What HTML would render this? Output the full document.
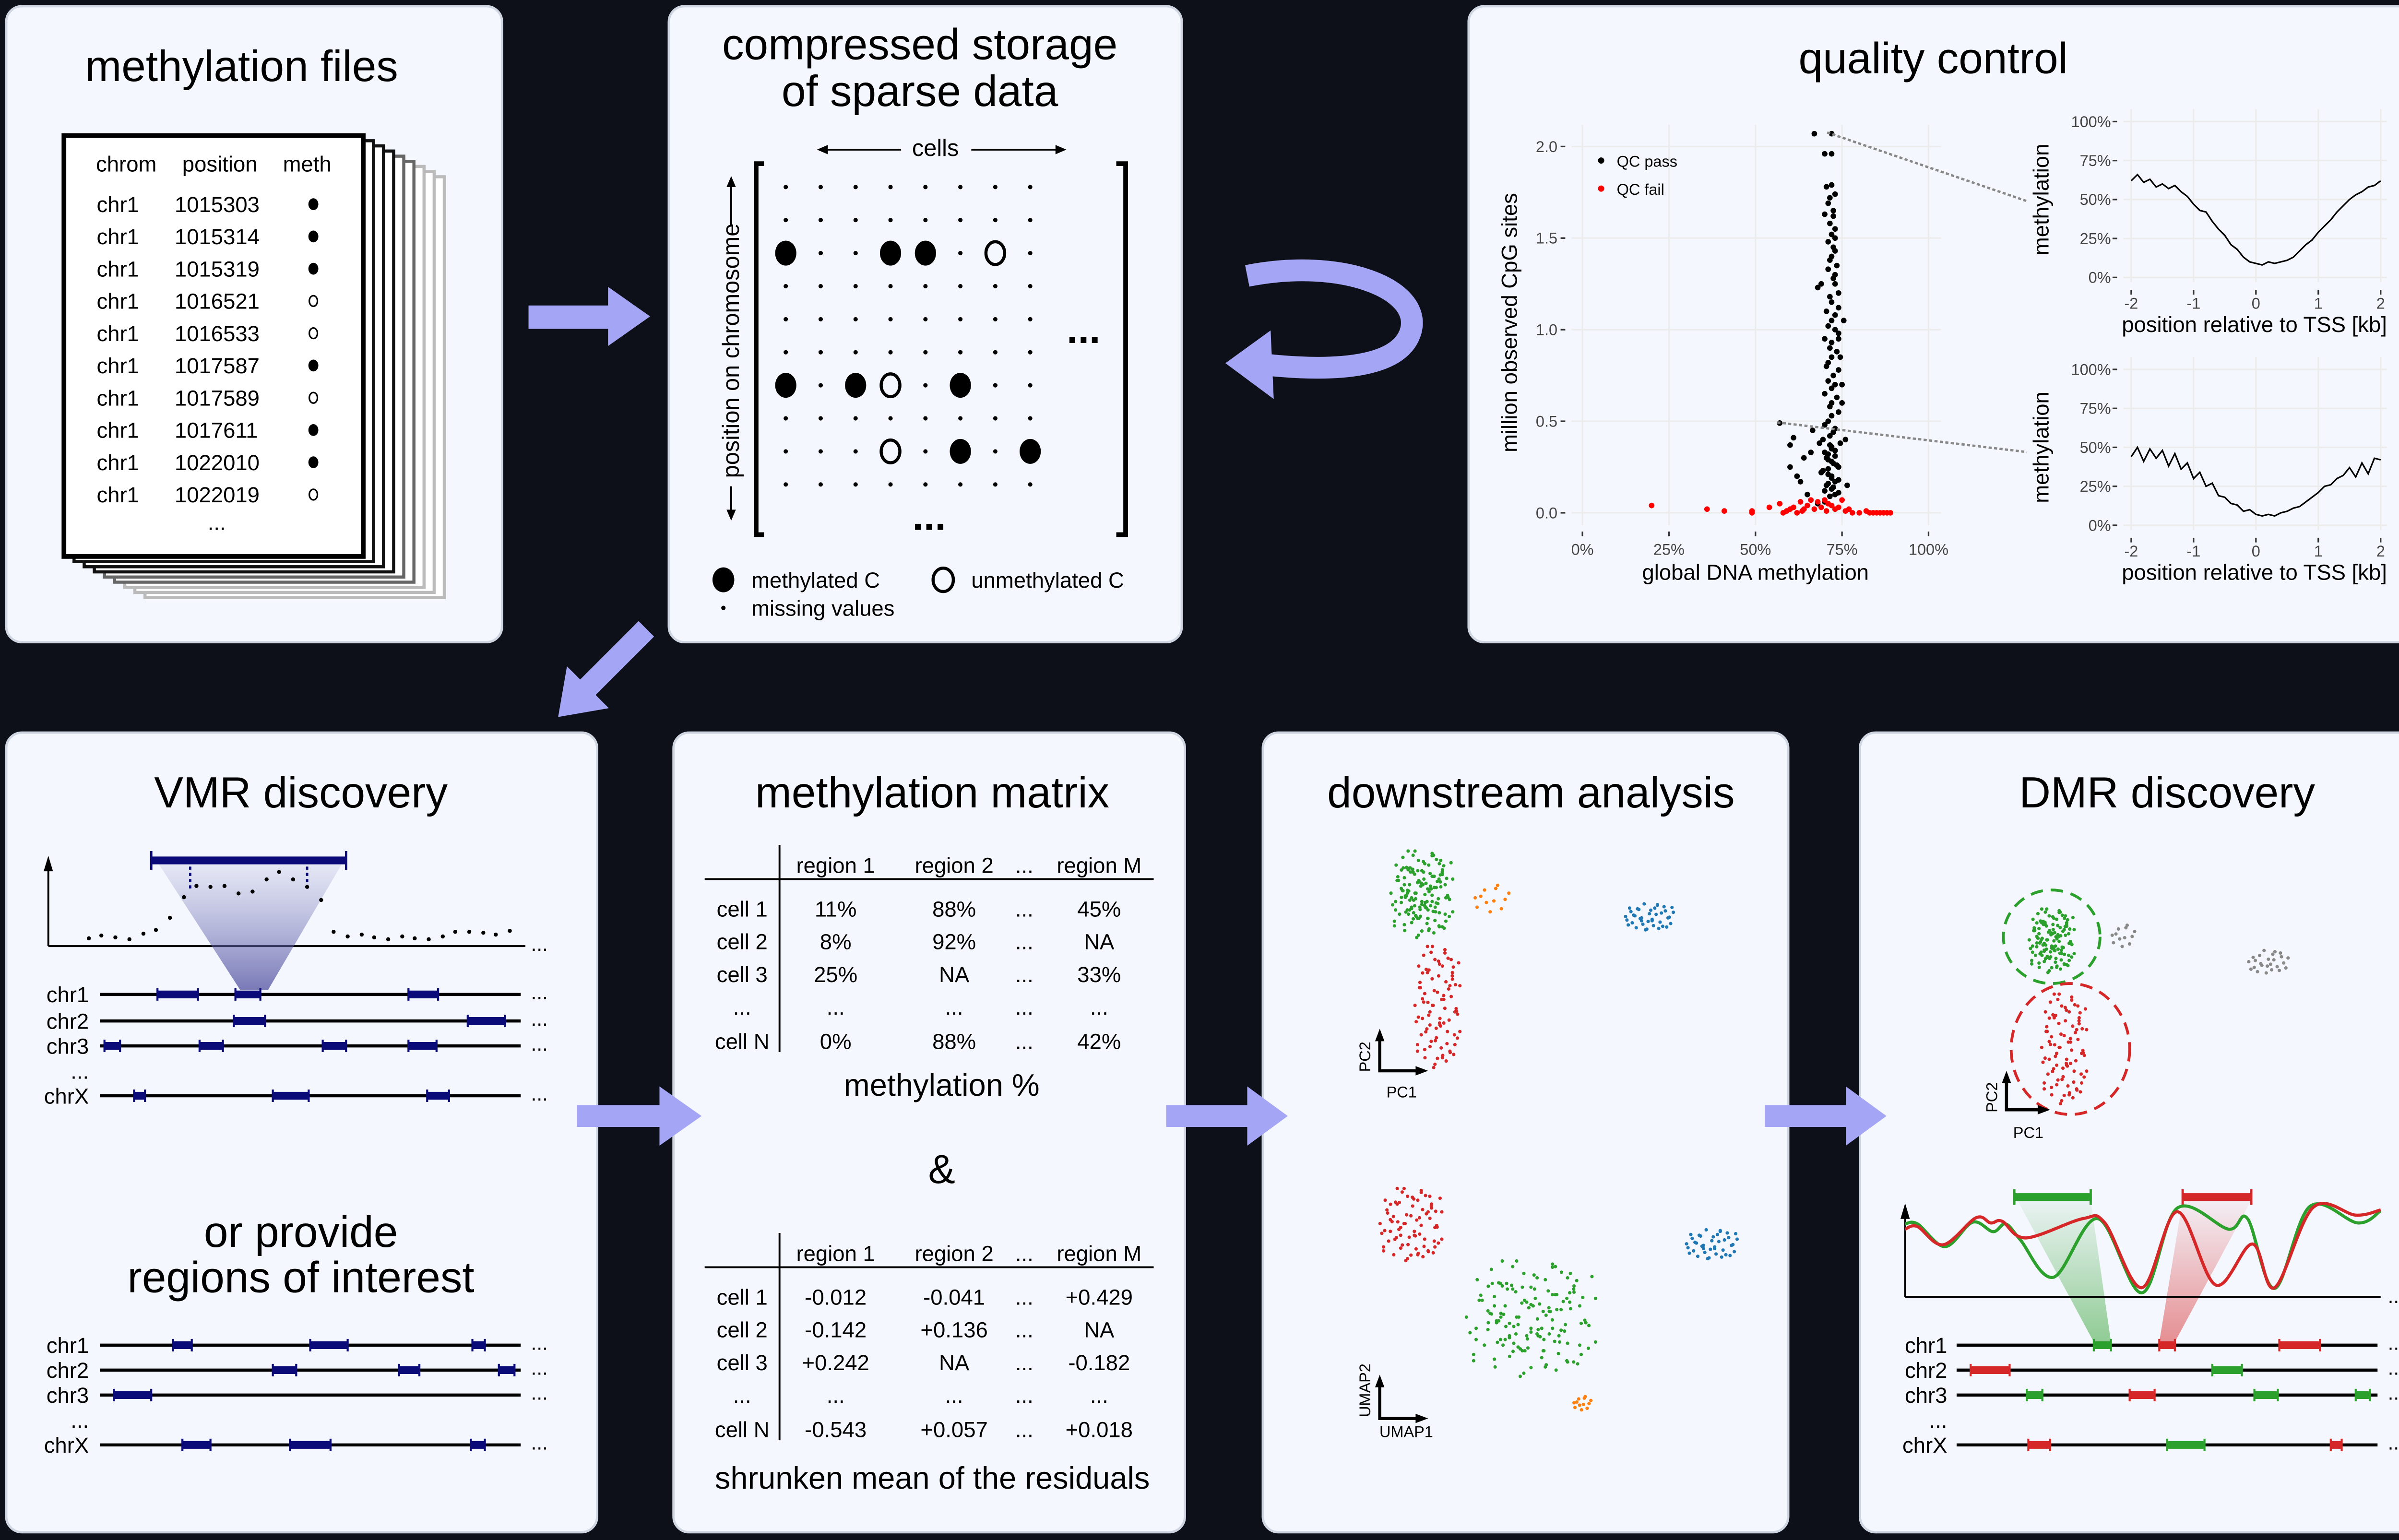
<!DOCTYPE html>
<html><head><meta charset="utf-8">
<style>
html,body{margin:0;padding:0;background:#0d1018;width:5095px;height:3210px;overflow:hidden;}
svg{display:block;font-family:"Liberation Sans",sans-serif;width:5095px;height:3210px;}
</style></head>
<body>
<svg id="fig" xmlns="http://www.w3.org/2000/svg" width="5095" height="3210" viewBox="0 0 1568 988" preserveAspectRatio="none">
<defs>
<linearGradient id="gPurple" x1="0" y1="0" x2="0" y2="1"><stop offset="0" stop-color="#8080c0" stop-opacity="0.12"/><stop offset="1" stop-color="#5050a0" stop-opacity="0.75"/></linearGradient>
<linearGradient id="gGreen" x1="0" y1="0" x2="0" y2="1"><stop offset="0" stop-color="#2ca02c" stop-opacity="0.05"/><stop offset="1" stop-color="#2ca02c" stop-opacity="0.5"/></linearGradient>
<linearGradient id="gRed" x1="0" y1="0" x2="0" y2="1"><stop offset="0" stop-color="#d62728" stop-opacity="0.04"/><stop offset="1" stop-color="#d62728" stop-opacity="0.5"/></linearGradient>
</defs>
<rect x="0" y="0" width="1600" height="1010" fill="#0d1018"/>

<g fill="#f4f7fd" stroke="#cfd6e2" stroke-width="1.5">
<rect x="4" y="4" width="318" height="408" rx="10"/>
<rect x="429" y="4" width="329" height="408" rx="10"/>
<rect x="942" y="4" width="622" height="408" rx="10"/>
<rect x="4" y="470" width="379" height="513" rx="10"/>
<rect x="432" y="470" width="328" height="513" rx="10"/>
<rect x="810" y="470" width="337" height="513" rx="10"/>
<rect x="1193" y="470" width="371" height="513" rx="10"/>
</g>

<g fill="#a5a5f5">
<polygon points="339,196 390,196 390,184 417,203 390,222 390,211 339,211"/>
<polygon points="370,709 423,709 423,697 450,716 423,735 423,723 370,723"/>
<polygon points="748,709 800,709 800,697 826,716 800,735 800,723 748,723"/>
<polygon points="1132,709 1184,709 1184,697 1210,716 1184,735 1184,723 1132,723"/>
<polygon transform="translate(358,460) rotate(-45)" points="0,0 27,-19 27,-7 80,-7 80,7 27,7 27,19"/>
</g>
<path d="M800,177 C860,165 912,185 905,212 C898,238 850,238 812,234" fill="none" stroke="#a5a5f5" stroke-width="14"/>
<polygon points="786,233 815,212 817,256" fill="#a5a5f5"/>

<text x="155" y="52" font-size="28" text-anchor="middle">methylation files</text>
<g id="sheets"></g>
<g font-size="14" text-anchor="middle">
<text x="81" y="110">chrom</text><text x="141" y="110">position</text><text x="197" y="110">meth</text>
</g>
<g id="ftable" font-size="14"></g>

<text x="590" y="38" font-size="28" text-anchor="middle">compressed storage</text>
<text x="590" y="68" font-size="28" text-anchor="middle">of sparse data</text>
<g>
<text x="600" y="100" font-size="15" text-anchor="middle">cells</text>
<line x1="526" y1="96" x2="578" y2="96" stroke="#000" stroke-width="1.2"/><polygon points="524,96 531,93 531,99"/>
<line x1="623" y1="96" x2="680" y2="96" stroke="#000" stroke-width="1.2"/><polygon points="684,96 677,93 677,99"/>
</g>
<g>
<text transform="translate(474,225) rotate(-90)" font-size="15" text-anchor="middle">position on chromosome</text>
<line x1="469" y1="117" x2="469" y2="145" stroke="#000" stroke-width="1.2"/><polygon points="469,113 466,120 472,120"/>
<line x1="469" y1="312" x2="469" y2="330" stroke="#000" stroke-width="1.2"/><polygon points="469,334 466,327 472,327"/>
</g>
<path d="M490,105 L485,105 L485,343 L490,343" fill="none" stroke="#000" stroke-width="3"/>
<path d="M716,105 L722,105 L722,343 L716,343" fill="none" stroke="#000" stroke-width="3"/>
<g id="sparse"></g>
<text x="695" y="220" font-size="26" font-weight="bold" text-anchor="middle">...</text>
<text x="596" y="340" font-size="26" font-weight="bold" text-anchor="middle">...</text>
<g font-size="14">
<ellipse cx="464" cy="372" rx="7" ry="8"/><text x="482" y="377">methylated C</text>
<ellipse cx="605" cy="372" rx="6.5" ry="7.5" fill="none" stroke="#000" stroke-width="2"/><text x="623" y="377">unmethylated C</text>
<circle cx="464" cy="390" r="1.4"/><text x="482" y="395">missing values</text>
</g>

<text x="1240" y="47" font-size="28" text-anchor="middle">quality control</text>
<g id="qc"></g>
<g id="tss1"></g>
<g id="tss2"></g>
<line x1="1172" y1="85" x2="1300" y2="129" stroke="#888" stroke-width="1.5" stroke-dasharray="2,1.5"/>
<line x1="1140" y1="271" x2="1300" y2="290" stroke="#888" stroke-width="1.5" stroke-dasharray="2,1.5"/>

<text x="193" y="518" font-size="28" text-anchor="middle">VMR discovery</text>
<g>
<line x1="31" y1="607" x2="337" y2="607" stroke="#000" stroke-width="1.2"/>
<line x1="31" y1="607" x2="31" y2="556" stroke="#000" stroke-width="1.2"/><polygon points="31,549 28,559 34,559"/>
<text x="346" y="610" font-size="13" text-anchor="middle">...</text>
<polygon points="101,553 220,553 172,635 154,635" fill="url(#gPurple)"/>
<line x1="97" y1="552" x2="222" y2="552" stroke="#0a0a78" stroke-width="5"/>
<line x1="97" y1="546" x2="97" y2="558" stroke="#0a0a78" stroke-width="1.5"/><line x1="222" y1="546" x2="222" y2="558" stroke="#0a0a78" stroke-width="1.5"/>
<line x1="122" y1="556" x2="122" y2="570" stroke="#0a0a78" stroke-width="1.5" stroke-dasharray="2,2"/>
<line x1="197" y1="556" x2="197" y2="570" stroke="#0a0a78" stroke-width="1.5" stroke-dasharray="2,2"/>
</g>
<g id="vmrdots"></g>
<g id="vmrchr1"></g>
<text x="193" y="800" font-size="28" text-anchor="middle">or provide</text>
<text x="193" y="829" font-size="28" text-anchor="middle">regions of interest</text>
<g id="vmrchr2"></g>

<text x="598" y="518" font-size="28" text-anchor="middle">methylation matrix</text>
<g id="mtab1" font-size="14"></g>
<text x="604" y="703" font-size="20" text-anchor="middle">methylation %</text>
<text x="604" y="759" font-size="26" text-anchor="middle">&amp;</text>
<g id="mtab2" font-size="14"></g>
<text x="598" y="955" font-size="20" text-anchor="middle">shrunken mean of the residuals</text>

<text x="982" y="518" font-size="28" text-anchor="middle">downstream analysis</text>
<g id="pca"></g>
<g id="umap"></g>
<g>
<path d="M885,665 L885,687 L911,687" fill="none" stroke="#000" stroke-width="2"/><polygon points="885,660 882,668 888,668"/><polygon points="916,687 908,684 908,690"/>
<text transform="translate(879,678) rotate(-90)" font-size="10" text-anchor="middle">PC2</text><text x="899" y="704" font-size="10" text-anchor="middle">PC1</text>
</g>
<g>
<path d="M885,887 L885,910 L911,910" fill="none" stroke="#000" stroke-width="2"/><polygon points="885,882 882,890 888,890"/><polygon points="916,910 908,907 908,913"/>
<text transform="translate(879,892) rotate(-90)" font-size="10" text-anchor="middle">UMAP2</text><text x="902" y="922" font-size="10" text-anchor="middle">UMAP1</text>
</g>

<text x="1390" y="518" font-size="28" text-anchor="middle">DMR discovery</text>
<g id="dmrpca"></g>
<ellipse cx="1316" cy="601" rx="31" ry="30" fill="none" stroke="#2ca02c" stroke-width="1.8" stroke-dasharray="8,5"/>
<ellipse cx="1328" cy="673" rx="38" ry="42" fill="none" stroke="#d62728" stroke-width="1.8" stroke-dasharray="8,5"/>
<g>
<path d="M1287,692 L1287,712 L1310,712" fill="none" stroke="#000" stroke-width="2"/><polygon points="1287,687 1284,695 1290,695"/><polygon points="1315,712 1307,709 1307,715"/>
<text transform="translate(1281,704) rotate(-90)" font-size="10" text-anchor="middle">PC2</text><text x="1301" y="730" font-size="10" text-anchor="middle">PC1</text>
</g>
<g>
<polygon points="1294,770 1341,770 1354,861 1343,861" fill="url(#gGreen)"/>
<polygon points="1400,770 1444,770 1395,861 1385,861" fill="url(#gRed)"/>
<line x1="1292" y1="768" x2="1341" y2="768" stroke="#2ca02c" stroke-width="5"/><line x1="1292" y1="763" x2="1292" y2="773" stroke="#2ca02c" stroke-width="1.5"/><line x1="1341" y1="763" x2="1341" y2="773" stroke="#2ca02c" stroke-width="1.5"/>
<line x1="1400" y1="768" x2="1444" y2="768" stroke="#d62728" stroke-width="5"/><line x1="1400" y1="763" x2="1400" y2="773" stroke="#d62728" stroke-width="1.5"/><line x1="1444" y1="763" x2="1444" y2="773" stroke="#d62728" stroke-width="1.5"/>
</g>
<g>
<line x1="1222" y1="832" x2="1527" y2="832" stroke="#000" stroke-width="1.2"/>
<line x1="1222" y1="832" x2="1222" y2="779" stroke="#000" stroke-width="1.2"/><polygon points="1222,772 1219,782 1225,782"/>
<text x="1537" y="836" font-size="13" text-anchor="middle">...</text>
</g>
<g id="dmrlines"></g>
<g id="dmrchr"></g>
</svg>

<script>
var NS="http://www.w3.org/2000/svg";
function mk(tag,parent,attrs){var e=document.createElementNS(NS,tag);for(var k in attrs)e.setAttribute(k,attrs[k]);parent.appendChild(e);return e;}
function G(id){return document.getElementById(id);}

var sheetCount=8;
var sheets=G('sheets');
for(var i=sheetCount;i>=0;i--){
  var shade=i===0?"#000":(i<4?"#111":(i<6?"#666":"#bbb"));
  var r=mk('rect',sheets,{x:41+i*6.5,y:87+i*3.3,width:192,height:270,fill:"#fff",stroke:shade,"stroke-width":i===0?3:2});
  
  
}
var fileChrom=["chr1","chr1","chr1","chr1","chr1","chr1","chr1","chr1","chr1","chr1"];
var filePos=["1015303","1015314","1015319","1016521","1016533","1017587","1017589","1017611","1022010","1022019"];
var fileMeth=[1,1,1,0,0,1,0,1,1,0];
var ft=G('ftable');
for(var i=0;i<filePos.length;i++){
  var y=136+i*20.7;
  var t=mk('text',ft,{x:62,y:y});t.textContent=fileChrom[i];
  
  
  t=mk('text',ft,{x:112,y:y});t.textContent=filePos[i];
  
  
  var c=mk('ellipse',ft,{cx:201,cy:y-5,rx:fileMeth[i]?3.2:2.6,ry:fileMeth[i]?3.8:3.4,fill:fileMeth[i]?"#000":"none",stroke:"#000","stroke-width":fileMeth[i]?0:1});
  
  
}
var fe=mk('text',ft,{x:139,y:340,"text-anchor":"middle"});fe.textContent="...";



var sparseRows=10, sparseCols=8;
var sparseVals=[
 [0,0,0,0,0,0,0,0],[0,0,0,0,0,0,0,0],[1,0,0,1,1,0,2,0],[0,0,0,0,0,0,0,0],[0,0,0,0,0,0,0,0],
 [0,0,0,0,0,0,0,0],[1,0,1,2,0,1,0,0],[0,0,0,0,0,0,0,0],[0,0,0,2,0,1,0,1],[0,0,0,0,0,0,0,0]];
var sp=G('sparse');
for(var r=0;r<sparseRows;r++)for(var c=0;c<sparseCols;c++){
  var cx=504+c*22.4, cy=120+r*21.2, v=sparseVals[r][c], e;
  if(v===0)e=mk('circle',sp,{cx:cx,cy:cy,r:1.4});
  else if(v===1)e=mk('ellipse',sp,{cx:cx,cy:cy,rx:6.8,ry:8});
  else e=mk('ellipse',sp,{cx:cx,cy:cy,rx:6,ry:7.3,fill:"none",stroke:"#000","stroke-width":2});
  
  
}

var qcPassX=[67,72,70,72,70.5,72,71.5,73,71,72.5,70,72.5,71.5,73,72,73,71,72.5,73,72,71.5,73.5,68,69,73,74,71,72.5,73,71.5,72,74,70.5,73,72,71,73,74,70,72,71.5,73.5,72,71,70.5,74,72.5,71,73,72,70,73.5,72,71.5,74,72,71,70,73,72.5,71.5,69.5,74.5,72,73,71,70.5,72,73.5,71,69,72,74,71,72.5,70,73,71.5,74,72,70.5,73,72,71,69.5,74,72.5,71,73,70,72,71.5,57,60,61,62,60,63,65,66,64,66.5,68,70,68.5,75,74,75.5,74.5,75,76,76.5];
var qcPassY=[2.07,2.07,1.96,1.96,1.78,1.79,1.72,1.74,1.69,1.65,1.63,1.62,1.58,1.55,1.52,1.5,1.48,1.45,1.43,1.4,1.38,1.35,1.23,1.25,1.3,1.2,1.33,1.28,1.25,1.18,1.15,1.12,1.1,1.08,1.05,1.02,1.0,0.98,0.95,0.93,0.9,0.88,0.85,0.82,0.8,0.78,0.75,0.72,0.7,0.68,0.65,0.63,0.6,0.58,0.55,0.53,0.5,0.48,0.46,0.44,0.42,0.4,0.38,0.36,0.34,0.32,0.3,0.28,0.26,0.24,0.22,0.2,0.18,0.16,0.14,0.12,0.1,0.09,0.11,0.13,0.15,0.17,0.19,0.21,0.23,0.25,0.27,0.29,0.31,0.33,0.35,0.37,0.49,0.37,0.41,0.2,0.25,0.17,0.1,0.33,0.3,0.45,0.05,0.06,0.38,0.7,0.95,1.05,0.85,0.6,0.4,0.15];
var qcFailX=[20,36,41,49,49,54,57,58,59,60,61,62,63,63.5,64,65,66,67,68,69,70,70.5,71,72,73,74,75,76,77,78,80,82,83,84,85,86,87,88,89];
var qcFailY=[0.04,0.02,0.01,0.01,0.0,0.03,0.05,0.0,0.01,0.02,0.03,0.0,0.06,0.01,0.02,0.04,0.07,0.02,0.06,0.03,0.07,0.01,0.05,0.04,0.02,0.03,0.07,0.01,0.02,0.0,0.0,0.01,0.0,0.0,0.0,0.0,0.0,0.0,0.0];
var qcXTicks=[0,25,50,75,100], qcXLabels=["0%","25%","50%","75%","100%"];
var qcYTicks=[0,0.5,1,1.5,2], qcYLabels=["0.0","0.5","1.0","1.5","2.0"];
function qx(v){return 1015+v*2.22;}
function qy(v){return 329-v*117.5;}
var qc=G('qc');
qcXTicks.forEach(function(t,i){
  var l=mk('line',qc,{x1:qx(t),y1:80,x2:qx(t),y2:337,stroke:"#ececec","stroke-width":1});
  
  
  mk('line',qc,{x1:qx(t),y1:341,x2:qx(t),y2:344,stroke:"#333"});
  var tx=mk('text',qc,{x:qx(t),y:356,"font-size":10,fill:"#444","text-anchor":"middle"});tx.textContent=qcXLabels[i];
  
  
});
qcYTicks.forEach(function(t,i){
  var l=mk('line',qc,{x1:1008,y1:qy(t),x2:1245,y2:qy(t),stroke:"#ececec","stroke-width":1});
  
  
  mk('line',qc,{x1:1001,y1:qy(t),x2:1004,y2:qy(t),stroke:"#333"});
  var tx=mk('text',qc,{x:999,y:qy(t)+3.5,"font-size":10,fill:"#444","text-anchor":"end"});tx.textContent=qcYLabels[i];
  
  
});
for(var i=0;i<qcPassX.length;i++){
  var p=mk('circle',qc,{cx:qx(qcPassX[i]),cy:qy(qcPassY[i]),r:1.8,fill:"#000"});
  
  
}
for(var i=0;i<qcFailX.length;i++){
  var p=mk('circle',qc,{cx:qx(qcFailX[i]),cy:qy(qcFailY[i]),r:1.8,fill:"#ff0000"});
  
  
}
var t=mk('text',qc,{transform:"translate(973,207) rotate(-90)","font-size":14,"text-anchor":"middle"});t.textContent="million observed CpG sites";


t=mk('text',qc,{x:1126,y:372,"font-size":14,"text-anchor":"middle"});t.textContent="global DNA methylation";


mk('circle',qc,{cx:1027,cy:103,r:2});
t=mk('text',qc,{x:1037,y:107,"font-size":10});t.textContent="QC pass";


mk('circle',qc,{cx:1027,cy:121,r:2,fill:"#ff0000"});
t=mk('text',qc,{x:1037,y:125,"font-size":10});t.textContent="QC fail";



var tssPos=[-2,-1.9,-1.8,-1.7,-1.6,-1.5,-1.4,-1.3,-1.2,-1.1,-1,-0.9,-0.8,-0.7,-0.6,-0.5,-0.4,-0.3,-0.2,-0.1,0,0.1,0.2,0.3,0.4,0.5,0.6,0.7,0.8,0.9,1,1.1,1.2,1.3,1.4,1.5,1.6,1.7,1.8,1.9,2];
var tssTop=[62,66,61,63,58,60,57,59,55,52,47,43,42,36,31,27,21,18,13,10,9,8,10,9,10,11,13,17,21,24,29,33,37,42,46,50,53,55,58,59,62];
var tssBottom=[44,50,41,49,43,48,38,46,36,40,30,34,25,27,19,18,14,13,9,10,7,6,7,6,8,9,11,12,15,18,21,25,26,30,32,37,31,40,33,43,42];
var tssXTicks=[-2,-1,0,1,2], tssXLabels=["-2","-1","0","1","2"];
var tssYTicks=[0,25,50,75,100], tssYLabels=["0%","25%","50%","75%","100%"];
function drawTss(gid,vals,y0,name){
  var g=G(gid);
  function tx(v){return 1367+(v+2)*40;}
  function ty(v){return y0-v*1.0;}
  tssXTicks.forEach(function(t,i){
    mk('line',g,{x1:tx(t),y1:ty(108),x2:tx(t),y2:ty(-3),stroke:"#ececec"});
    mk('line',g,{x1:tx(t),y1:ty(-8),x2:tx(t),y2:ty(-11),stroke:"#333"});
    var l=mk('text',g,{x:tx(t),y:ty(-20),"font-size":10,fill:"#444","text-anchor":"middle"});l.textContent=tssXLabels[i];
    
    
  });
  tssYTicks.forEach(function(t,i){
    mk('line',g,{x1:1362,y1:ty(t),x2:1531,y2:ty(t),stroke:"#ececec"});
    mk('line',g,{x1:1355,y1:ty(t),x2:1358,y2:ty(t),stroke:"#333"});
    var l=mk('text',g,{x:1354,y:ty(t)+3.5,"font-size":10,fill:"#444","text-anchor":"end"});l.textContent=tssYLabels[i];
    
    
  });
  var d="";
  for(var i=0;i<vals.length;i++)d+=(i?"L":"M")+tx(tssPos[i]).toFixed(1)+","+ty(vals[i]).toFixed(1);
  var p=mk('path',g,{d:d,fill:"none",stroke:"#000","stroke-width":1});
  
  
  var l=mk('text',g,{transform:"translate(1314,"+(y0-50)+") rotate(-90)","font-size":14,"text-anchor":"middle"});l.textContent="methylation";
  
  
  l=mk('text',g,{x:1446,y:y0+35,"font-size":14,"text-anchor":"middle"});l.textContent="position relative to TSS [kb]";
  
  
}
drawTss('tss1',tssTop,178,'tss-profile-top');
drawTss('tss2',tssBottom,337,'tss-profile-bottom');

var vmrDotX=[57,65,74,83,92,100,109,118,126,135,144,153,162,171,179,188,197,206,214,223,232,240,249,258,266,275,284,292,301,310,318,327];
var vmrDotY=[0.05,0.08,0.06,0.04,0.1,0.14,0.27,0.49,0.61,0.6,0.61,0.53,0.55,0.68,0.76,0.68,0.6,0.46,0.12,0.07,0.09,0.06,0.04,0.07,0.05,0.04,0.07,0.12,0.12,0.11,0.09,0.13];
var vd=G('vmrdots');
for(var i=0;i<vmrDotX.length;i++){
  var c=mk('circle',vd,{cx:vmrDotX[i],cy:605-vmrDotY[i]*60,r:1.3});
  
  
}
function drawChroms(gid,labels,ys,regions,colors,x0,x1,lx){
  var g=G(gid);
  for(var i=0;i<labels.length;i++){
    var t=mk('text',g,{x:lx,y:ys[i]+5,"font-size":14,"text-anchor":"end"});t.textContent=labels[i];
    
    
    if(labels[i]==="...")continue;
    var l=mk('line',g,{x1:x0,y1:ys[i],x2:x1,y2:ys[i],stroke:"#000","stroke-width":2});
    
    
    var e=mk('text',g,{x:x1+12,y:ys[i]+3,"font-size":13,"text-anchor":"middle"});e.textContent="...";
    regions[i].forEach(function(rg,j){
      var col=colors?colors[i][j]:"#0a0a78";
      var r=mk('line',g,{x1:rg[0],y1:ys[i],x2:rg[1],y2:ys[i],stroke:col,"stroke-width":5});
      
      
      mk('line',g,{x1:rg[0],y1:ys[i]-4,x2:rg[0],y2:ys[i]+4,stroke:col,"stroke-width":1.3});
      mk('line',g,{x1:rg[1],y1:ys[i]-4,x2:rg[1],y2:ys[i]+4,stroke:col,"stroke-width":1.3});
    });
  }
}
var chromLabels=["chr1","chr2","chr3","...","chrX"];
var vmrRegions1=[[[101,127],[151,167],[262,281]],[[150,170],[300,324]],[[67,77],[128,143],[207,222],[262,280]],[],[[86,93],[175,198],[274,288]]];
var vmrRegions2=[[[111,123],[199,223],[303,311]],[[175,190],[256,269],[320,330]],[[73,97]],[],[[117,135],[186,212],[302,311]]];
drawChroms('vmrchr1',chromLabels,[638,655,671,687,703],vmrRegions1,null,64,334,57);
drawChroms('vmrchr2',chromLabels,[863,879,895,911,927],vmrRegions2,null,64,334,57);

var regionHeaders=["region 1","region 2","...","region M"];
var cellLabels=["cell 1","cell 2","cell 3","...","cell N"];
var methPct=[["11%","88%","...","45%"],["8%","92%","...","NA"],["25%","NA","...","33%"],["...","...","...","..."],["0%","88%","...","42%"]];
var residuals=[["-0.012","-0.041","...","+0.429"],["-0.142","+0.136","...","NA"],["+0.242","NA","...","-0.182"],["...","...","...","..."],["-0.543","+0.057","...","+0.018"]];
function drawTable(gid,vals,yh){
  var g=G(gid), colX=[536,612,657,705];
  mk('line',g,{x1:500,y1:yh-13,x2:500,y2:yh+120,stroke:"#000","stroke-width":1.2});
  mk('line',g,{x1:452,y1:yh+9,x2:740,y2:yh+9,stroke:"#000","stroke-width":1.2});
  regionHeaders.forEach(function(h,j){var t=mk('text',g,{x:colX[j],y:yh+5,"text-anchor":"middle"});t.textContent=h;
    
    });
  var rowY=[28,49,70,91,113];
  cellLabels.forEach(function(c,i){
    var t=mk('text',g,{x:476,y:yh+rowY[i]+5,"text-anchor":"middle"});t.textContent=c;
    
    
    vals[i].forEach(function(v,j){var s=mk('text',g,{x:colX[j],y:yh+rowY[i]+5,"text-anchor":"middle"});s.textContent=v;
      
      });
  });
}
drawTable('mtab1',methPct,555);
drawTable('mtab2',residuals,804);

var jitX=[0.1,-0.4,0.7,-0.8,0.3,-0.1,0.9,-0.6,0.5,-0.3,0.2,-0.9,0.6,-0.5,0.0,0.8,-0.2,0.4,-0.7,0.15,-0.35,0.55,-0.65,0.25,-0.05,0.75,-0.45,0.35,-0.85,0.05,0.45,-0.25,0.65,-0.55,0.85,-0.15,0.3,-0.75,0.1,-0.3,0.5,-0.1,0.7,-0.6,0.2,-0.4,0.9,-0.2,0.6,-0.8];
var jitY=[0.2,-0.5,0.1,0.6,-0.8,0.9,-0.3,-0.1,0.7,0.3,-0.6,0.0,-0.4,0.8,-0.2,0.5,-0.9,0.4,-0.35,0.65,0.15,-0.7,0.45,-0.15,0.35,0.05,-0.55,0.85,0.25,-0.45,-0.25,0.55,0.75,-0.05,-0.65,0.95,-0.85,-0.6,0.3,0.1,-0.3,-0.7,0.6,0.2,0.8,-0.9,0.4,0.0,-0.5,0.7];
var pcaCx=[912,957,1058,922], pcaCy=[573,576,588,645], pcaSx=[22,12,17,16], pcaSy=[30,10,9,42], pcaColors=["#2ca02c","#ff7f0e","#1f77b4","#d62728"], pcaN=[150,12,40,90];
var umapCx=[905,982,1098,1015], umapCy=[785,845,798,900], umapSx=[22,46,18,6], umapSy=[25,40,10,5], umapN=[80,150,40,12];
var dmrCx=[1316,1362,1455,1324], dmrCy=[603,600,617,672], dmrSx=[16,8,14,16], dmrSy=[22,8,8,38], dmrColors=["#2ca02c","#888888","#888888","#d62728"], dmrN=[130,12,25,90];
function drawClusters(gid,cx,cy,sx,sy,cols,n,name){
  var g=G(gid);
  for(var k=0;k<cx.length;k++){
    for(var i=0;i<n[k];i++){
      var j=i%jitX.length, alt=Math.floor(i/jitX.length)%3;
      var dx=alt===0?jitX[j]:(alt===1?jitY[j]*0.85:-jitY[(j+7)%jitY.length]*0.6);
      var dy=alt===0?jitY[j]:(alt===1?-jitX[j]*0.9:jitX[(j+13)%jitX.length]*0.6);
      var c=mk('circle',g,{cx:cx[k]+dx*sx[k],cy:cy[k]+dy*sy[k],r:1.1,fill:cols[k]});
      
      
    }
  }
}
drawClusters('pca',pcaCx,pcaCy,pcaSx,pcaSy,pcaColors,pcaN,'pca-point');
drawClusters('umap',umapCx,umapCy,umapSx,umapSy,["#d62728","#2ca02c","#1f77b4","#ff7f0e"],umapN,'umap-point');
drawClusters('dmrpca',dmrCx,dmrCy,dmrSx,dmrSy,dmrColors,dmrN,'dmr-pca-point');

var greenPosX=[0,0.026,0.084,0.142,0.185,0.211,0.242,0.312,0.405,0.498,0.572,0.68,0.72,0.777,0.851,0.952,1];
var greenVal=[0.8,0.8,0.54,0.82,0.71,0.8,0.62,0.19,0.86,0.01,0.98,0.74,0.86,0.06,1.0,0.81,0.95];
var redPosX=[0,0.026,0.08,0.149,0.18,0.204,0.254,0.374,0.42,0.498,0.572,0.653,0.73,0.777,0.858,0.948,1];
var redVal=[0.74,0.77,0.56,0.87,0.81,0.83,0.64,0.86,0.81,0.07,0.94,0.1,0.57,0.07,0.99,0.9,0.96];
function lx(v){return 1222+v*305;}
function ly(v){return 830-v*56;}
function smoothPath(xs,ys){
  var pts=xs.map(function(x,i){return [lx(x),ly(ys[i])];});
  var d="M"+pts[0][0]+","+pts[0][1];
  for(var i=0;i<pts.length-1;i++){
    var p0=pts[i-1]||pts[i],p1=pts[i],p2=pts[i+1],p3=pts[i+2]||p2;
    var c1x=p1[0]+(p2[0]-p0[0])/6,c1y=p1[1]+(p2[1]-p0[1])/6,c2x=p2[0]-(p3[0]-p1[0])/6,c2y=p2[1]-(p3[1]-p1[1])/6;
    d+="C"+c1x.toFixed(1)+","+c1y.toFixed(1)+" "+c2x.toFixed(1)+","+c2y.toFixed(1)+" "+p2[0].toFixed(1)+","+p2[1].toFixed(1);
  }
  return d;
}
var dl=G('dmrlines');
var gp=mk('path',dl,{d:smoothPath(greenPosX,greenVal),fill:"none",stroke:"#2ca02c","stroke-width":2});


var rp=mk('path',dl,{d:smoothPath(redPosX,redVal),fill:"none",stroke:"#d62728","stroke-width":2});



var G_="#2ca02c", R_="#d62728";
var dmrRegions=[[[1343,1354],[1385,1395],[1462,1488]],[[1264,1289],[1419,1438]],[[1300,1310],[1366,1382],[1446,1461],[1511,1520]],[],[[1301,1315],[1390,1414],[1495,1502]]];
var dmrRegionColors=[[G_,R_,R_],[R_,G_],[G_,R_,G_,G_],[],[R_,G_,R_]];
drawChroms('dmrchr',chromLabels,[863,879,895,911,927],dmrRegions,dmrRegionColors,1255,1525,1249);
</script>
</body></html>
